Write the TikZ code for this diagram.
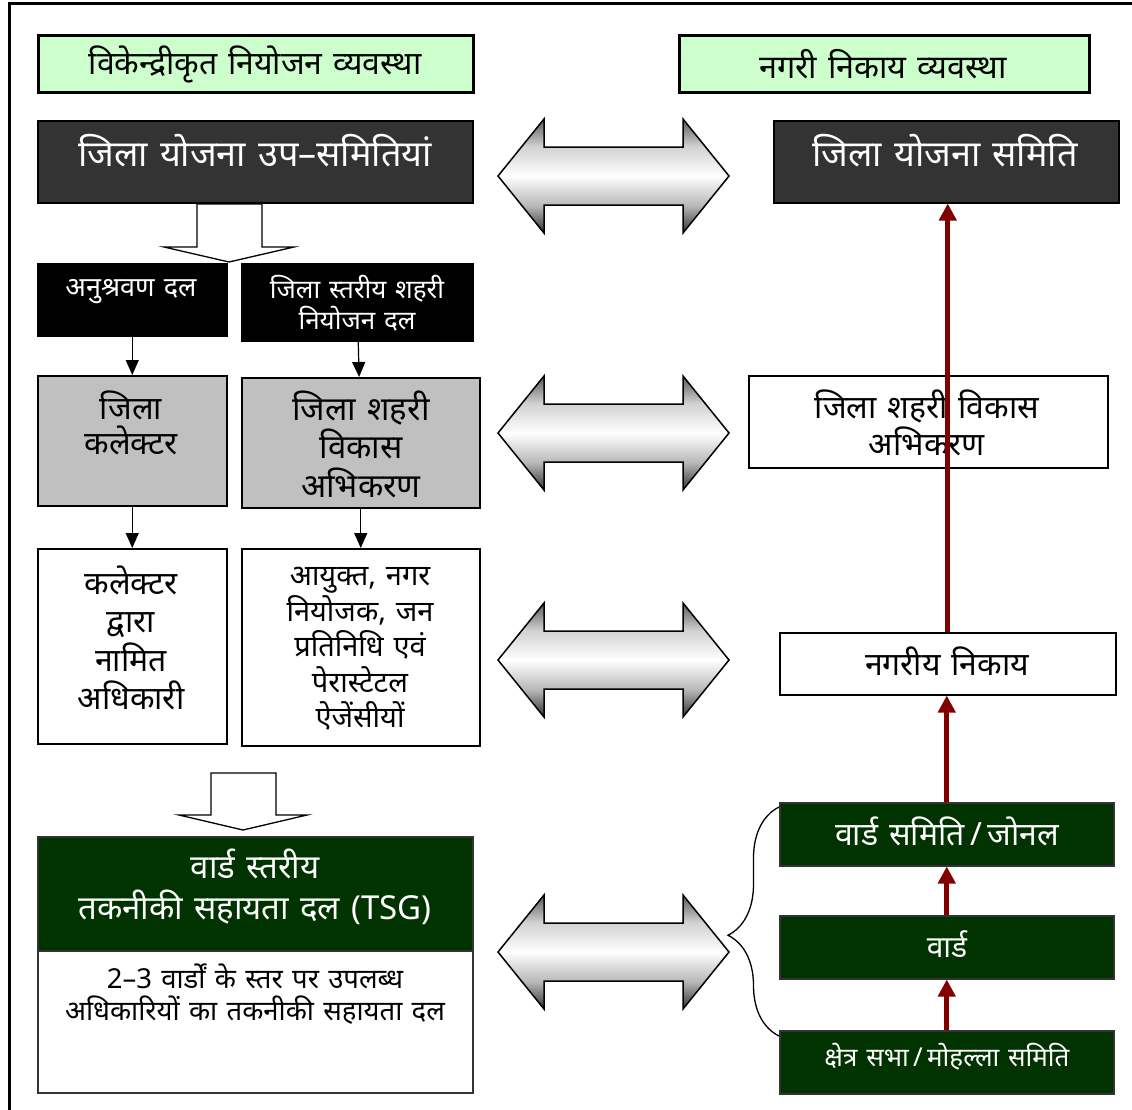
\documentclass[tikz,border=0pt]{standalone}
\usepackage{fontspec}
\setmainfont[Script=Devanagari, WordSpace=1.3]{Noto Sans}
\usetikzlibrary{arrows.meta, decorations.pathreplacing}

\definecolor{hdrgreen}{HTML}{CCFFCC}
\definecolor{darkbox}{HTML}{333333}
\definecolor{graybox}{HTML}{C0C0C0}
\definecolor{wardgreen}{HTML}{003300}
\definecolor{upred}{HTML}{800000}
\pgfdeclareverticalshading{dblshade}{100bp}{color(0bp)=(black!80); color(25bp)=(black!80); color(37bp)=(black!28); color(50bp)=(white); color(63bp)=(black!18); color(75bp)=(black!65); color(100bp)=(black!65)}

\begin{document}
\begin{tikzpicture}[x=1pt, y=-1pt,
    box/.style={draw, line width=1.5pt, inner sep=0pt, anchor=north west},
    txt/.style={align=center, inner sep=0pt},
    down/.style={-{Triangle[length=15pt, width=13pt]}, line width=1.2pt},
    up/.style={-{Triangle[length=17pt, width=17pt]}, line width=5pt, upred},
    dblarrow/.style={draw, line width=1.5pt, shading=dblshade},
    hollow/.style={draw, line width=1.3pt, fill=white}]
    \useasboundingbox (0,0) rectangle (1132,1109);

    % Frame
    \draw[line width=3pt] (9,1120) -- (9,3) -- (1140,3);

    % Headers
    \node[box, line width=2.5pt, fill=hdrgreen, minimum width=435pt, minimum height=57pt] (hdl) at (37,34) {};
    \node[box, line width=2.5pt, fill=hdrgreen, minimum width=410pt, minimum height=57pt] (hdr) at (678,34) {};
    \node[txt, font=\fontsize{32}{36}\selectfont] (hdlt) at (255,64) {विकेन्द्रीकृत नियोजन व्यवस्था};
    \node[txt, font=\fontsize{32.5}{36}\selectfont] (hdrt) at (883,64) {नगरी निकाय व्यवस्था};

    % Left column
    \node[box, fill=darkbox, minimum width=435pt, minimum height=82pt] (jysl) at (37,120) {};
    \node[txt, text=white, font=\fontsize{36}{40}\selectfont] (jyslt) at (255,151) {जिला योजना उप–समितियां};
    \node[box, fill=black, minimum width=189pt, minimum height=72pt] (anu) at (37,263) {};
    \node[txt, text=white, font=\fontsize{27}{31}\selectfont] (anut) at (131,292) {अनुश्रवण दल};
    \node[box, fill=black, minimum width=231pt, minimum height=77pt] (jss) at (241,263) {};
    \node[txt, text=white, font=\fontsize{26}{31}\selectfont] (jsst) at (357,303) {जिला स्तरीय शहरी\\नियोजन दल};
    \node[box, fill=graybox, minimum width=189pt, minimum height=130pt] (jc) at (37,375) {};
    \node[txt, font=\fontsize{32}{35}\selectfont] (jct) at (131,423) {जिला\\कलेक्टर};
    \node[box, fill=graybox, minimum width=238pt, minimum height=130pt] (jsv) at (241,377) {};
    \node[txt, font=\fontsize{33}{38.5}\selectfont] (jsvt) at (361,444) {जिला शहरी\\विकास\\अभिकरण};
    \node[box, fill=white, minimum width=189pt, minimum height=195pt] (kdn) at (37,548) {};
    \node[txt, font=\fontsize{32}{38.5}\selectfont] (kdnt) at (131,638) {कलेक्टर\\द्वारा\\नामित\\अधिकारी};
    \node[box, fill=white, minimum width=238pt, minimum height=197pt] (anj) at (241,548) {};
    \node[txt, font=\fontsize{29}{35.5}\selectfont] (anjt) at (360,649) {आयुक्त, नगर\\नियोजक, जन\\प्रतिनिधि एवं\\पेरास्टेटल\\ऐजेंसीयों};
    \node[box, draw=darkbox, fill=wardgreen, minimum width=435pt, minimum height=114pt] (tsg) at (37,836) {};
    \node[txt, text=white, font=\fontsize{33}{41}\selectfont] (tsgt) at (255,887) {वार्ड स्तरीय\\तकनीकी सहायता दल (TSG)};
    \node[box, draw=darkbox, fill=white, minimum width=435pt, minimum height=142pt] (tsgd) at (37,950) {};
    \node[txt, font=\fontsize{27.5}{32}\selectfont] (tsgdt) at (255,994) {2–3 वार्डों के स्तर पर उपलब्ध\\अधिकारियों का तकनीकी सहायता दल};

    % Right column
    \node[box, fill=darkbox, minimum width=345pt, minimum height=82pt] (jysr) at (773,120) {};
    \node[txt, text=white, font=\fontsize{36}{40}\selectfont] (jysrt) at (945,151) {जिला योजना समिति};
    \node[box, fill=white, minimum width=359pt, minimum height=92pt] (jsvr) at (748,375) {};
    \node[txt, font=\fontsize{32}{37}\selectfont] (jsvrt) at (927,423) {जिला शहरी विकास\\अभिकरण};
    \node[box, fill=white, minimum width=336pt, minimum height=62pt] (nn) at (779,632) {};
    \node[txt, font=\fontsize{32}{36}\selectfont] (nnt) at (947,661) {नगरीय निकाय};
    \node[box, draw=darkbox, fill=wardgreen, minimum width=334pt, minimum height=63pt] (ws) at (779,802) {};
    \node[txt, text=white, font=\fontsize{32}{36}\selectfont] (wst) at (947,831) {वार्ड समिति\,/\,जोनल};
    \node[box, draw=darkbox, fill=wardgreen, minimum width=334pt, minimum height=63pt] (wd) at (779,915) {};
    \node[txt, text=white, font=\fontsize{30}{36}\selectfont] (wdt) at (947,944) {वार्ड};
    \node[box, draw=darkbox, fill=wardgreen, minimum width=334pt, minimum height=63pt] (ks) at (779,1030) {};
    \node[txt, text=white, font=\fontsize{26}{30}\selectfont] (kst) at (947,1057) {क्षेत्र सभा\,/\,मोहल्ला समिति};

    % Downward flow (left)
    \draw[down] (anu) -- (jc);
    \draw[down] (jss) -- (jsv);
    \draw[down] (jc) -- (kdn);
    \draw[down] (jsv) -- (anj);
    \draw[hollow] (197,204) -- (262,204) -- (262,247) -- (294,247) -- (229,262) -- (164,247) -- (197,247) -- cycle;
    \draw[hollow] (211,773) -- (276,773) -- (276,815) -- (307,815) -- (243,830) -- (179,815) -- (211,815) -- cycle;

    % Upward flow (right)
    \draw[up] (ks.north) -- (ks.north |- wd.south);
    \draw[up] (wd.north) -- (wd.north |- ws.south);
    \draw[up] (ws.north) -- (ws.north |- nn.south);
    \draw[up] (nn.north) -- (nn.north |- jysr.south);

    % Two-way links between the columns
    \foreach \cy in {176,433,660,952}
        \path[dblarrow] (498,\cy) -- (544,\cy-57) -- (544,\cy-29) -- (683,\cy-29) -- (683,\cy-57) -- (729,\cy)
            -- (683,\cy+57) -- (683,\cy+29) -- (544,\cy+29) -- (544,\cy+57) -- cycle;

    % Brace over the ward levels
    \draw[decorate, decoration={brace, amplitude=51pt, aspect=0.44}, line width=1.3pt]
        ([yshift=-6pt]ks.north west) -- ([yshift=-5pt]ws.north west);
\end{tikzpicture}
\end{document}
